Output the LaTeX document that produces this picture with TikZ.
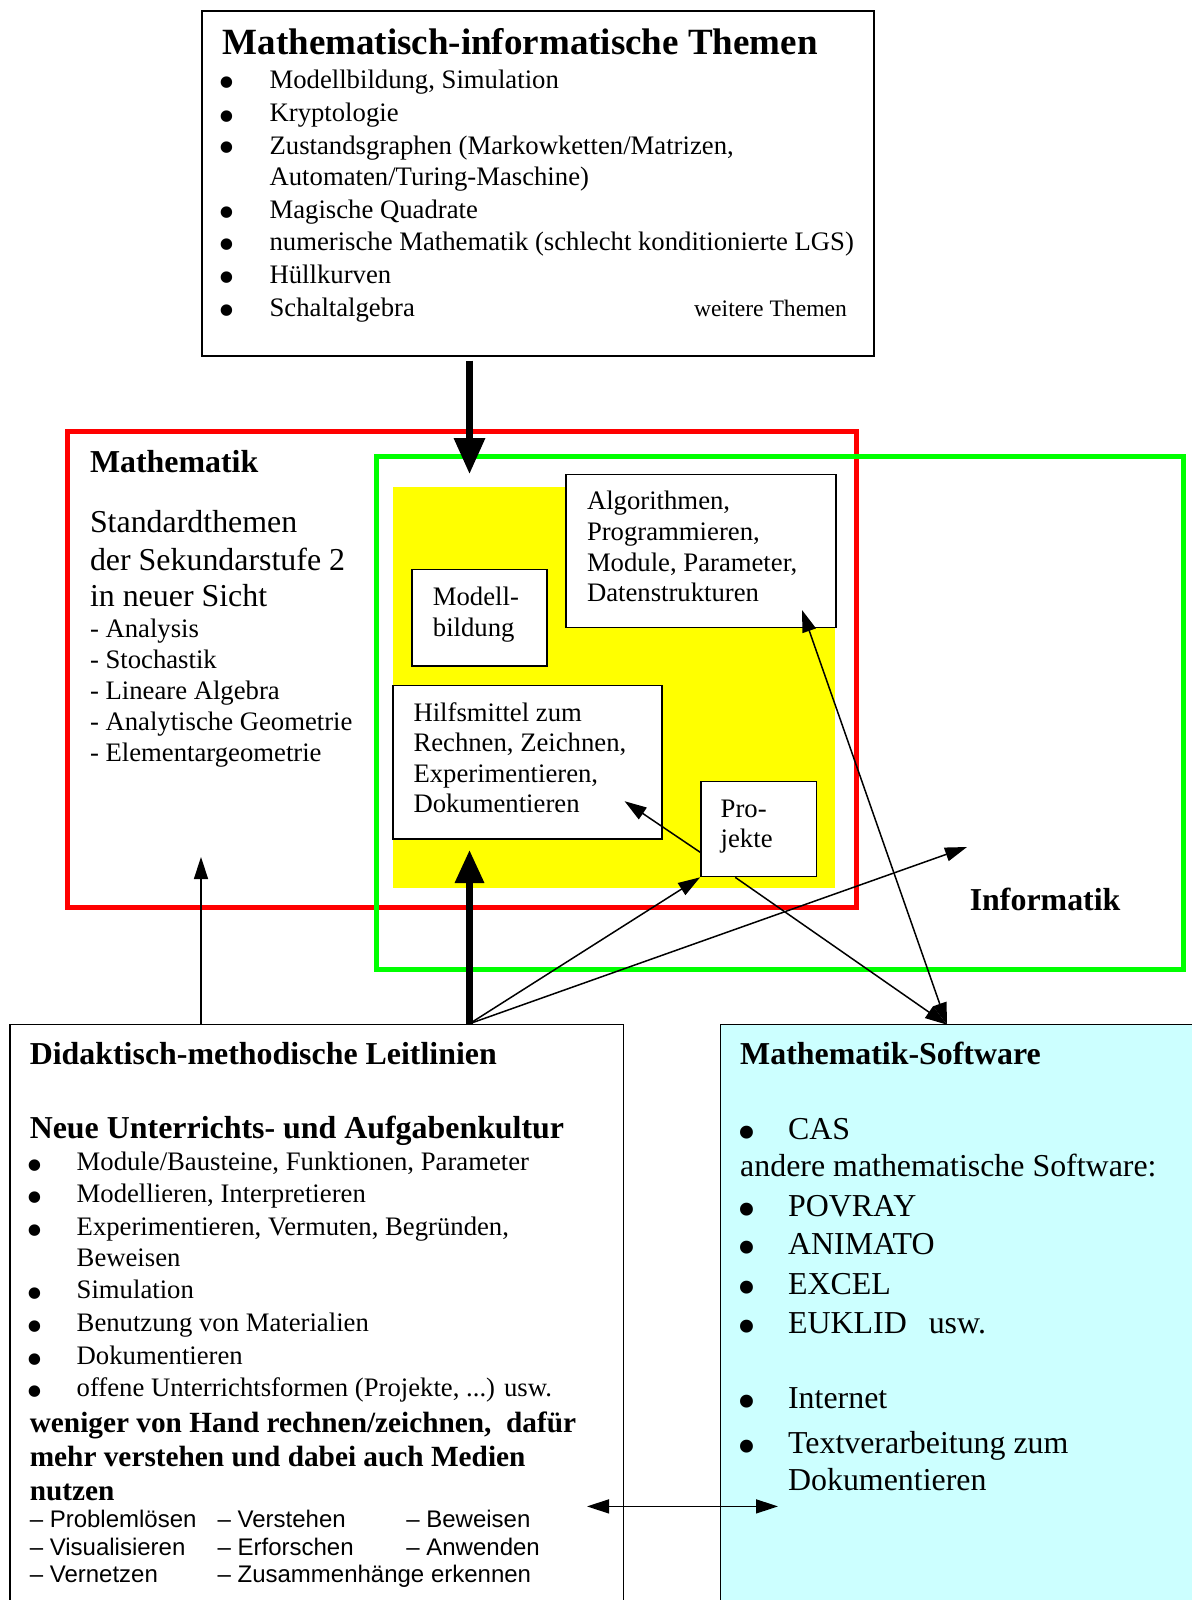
\documentclass[tikz,border=0pt]{standalone}
\usepackage{fontspec}
\setmainfont{Liberation Serif}
\setsansfont{Liberation Sans}
\usetikzlibrary{arrows.meta,calc}
\definecolor{frameRed}{RGB}{255,0,0}
\definecolor{frameGreen}{RGB}{0,255,0}
\definecolor{hiYellow}{RGB}{255,255,0}
\definecolor{softCyan}{RGB}{204,255,255}

\begin{document}
\begin{tikzpicture}[x=1pt,y=-1pt,
  box/.style={draw=black,line width=1.6pt,inner sep=0pt,anchor=north west,fill=white},
  frame/.style={line width=5pt,inner sep=0pt,anchor=north west},
  body/.style={anchor=base west,inner sep=0pt,font=\fontsize{26.7}{32}\selectfont},
  large/.style={anchor=base west,inner sep=0pt,font=\fontsize{31.9}{38}\selectfont},
  head/.style={anchor=base west,inner sep=0pt,font=\fontsize{31.9}{38}\selectfont\bfseries},
  slogan/.style={anchor=base west,inner sep=0pt,font=\fontsize{29.3}{34}\selectfont\bfseries},
  skill/.style={anchor=base west,inner sep=0pt,font=\sffamily\fontsize{24}{28}\selectfont},
  dot/.style={anchor=base,inner sep=0pt,font=\fontsize{48}{50}\selectfont},
  bigdot/.style={anchor=base,inner sep=0pt,font=\fontsize{54}{56}\selectfont},
  thin/.style={line width=1.5pt,-{Triangle[length=22pt,width=14pt]}},
  thinboth/.style={line width=1.5pt,{Triangle[length=22pt,width=14pt]}-{Triangle[length=22pt,width=14pt]}},
  heavy/.style={line width=6.5pt,-{Triangle[length=36pt,width=30pt]}}
]
\useasboundingbox (0,0) rectangle (1191,1600);
\fill[white] (0,0) rectangle (1191,1600);

% ---------- topic box at the top ----------
\node[box,minimum width=672pt,minimum height=345pt] (themen) at (201,10) {};
\node[anchor=base west,inner sep=0pt,font=\fontsize{37}{44}\selectfont\bfseries] (themenT) at (222.5,55) {Mathematisch-informatische Themen};
\foreach \yy/\tt [count=\i] in {89/{Modellbildung, Simulation},122/Kryptologie,154/{Zustandsgraphen (Markowketten/Matrizen,},218/Magische Quadrate,250/numerische Mathematik (schlecht konditionierte LGS),283/Hüllkurven,316/Schaltalgebra}{
  \node[dot] (tb\i) at (226.7,\yy+10) {\smash{\textbullet}};
  \node[body] (tt\i) at (269.4,\yy) {\tt};
}
\node[body] (ttcont) at (269.4,185) {Automaten/Turing-Maschine)};
\node[anchor=base west,inner sep=0pt,font=\fontsize{23.6}{28}\selectfont] (weitere) at (694,316) {weitere Themen};

% ---------- mathematics / informatics frames ----------
\node[frame,draw=frameRed,minimum width=788.9pt,minimum height=476.6pt] (mathe) at (65.3,428.7) {};
\node[frame,draw=frameGreen,minimum width=807.3pt,minimum height=512.3pt] (info) at (373.5,454.2) {};
\node[anchor=north west,inner sep=0pt,fill=hiYellow,minimum width=442pt,minimum height=401.1pt] (yel) at (392.9,486.8) {};

\node[head] (matheT) at (89.8,472) {Mathematik};
\node[large] (std1) at (89.8,532) {Standardthemen};
\node[large] (std2) at (89.8,570) {der Sekundarstufe 2};
\node[large] (std3) at (89.8,606.5) {in neuer Sicht};
\foreach \yy/\tt [count=\i] in {637/- Analysis,668/- Stochastik,699.5/- Lineare Algebra,730/- Analytische Geometrie,761/- Elementargeometrie}{
  \node[body] (sg\i) at (89.8,\yy) {\tt};
}

% ---------- boxes in the common area ----------
\node[box,minimum width=269.5pt,minimum height=153pt] (alg) at (565.4,473.6) {};
\foreach \yy/\tt [count=\i] in {509.6/{Algorithmen,},540/{Programmieren,},571/{Module, Parameter,},601.5/Datenstrukturen}{
  \node[body] (alg\i) at (586.8,\yy) {\tt};
}
\node[box,minimum width=134.7pt,minimum height=96.9pt] (modell) at (411.3,568.5) {};
\node[body] (modell1) at (432.7,605.5) {Modell-};
\node[body] (modell2) at (432.7,636) {bildung};
\node[box,minimum width=269.4pt,minimum height=153.1pt] (hilf) at (391.9,684.8) {};
\foreach \yy/\tt [count=\i] in {721/Hilfsmittel zum,751.5/{Rechnen, Zeichnen,},782/{Experimentieren,},812.7/Dokumentieren}{
  \node[body] (hilf\i) at (413.3,\yy) {\tt};
}
\node[box,minimum width=115.4pt,minimum height=94.9pt] (proj) at (700.1,780.8) {};
\node[body] (proj1) at (720.5,817) {Pro-};
\node[body] (proj2) at (720.5,847.5) {jekte};
\node[head] (infoT) at (969.6,910) {Informatik};

% ---------- didactic guidelines ----------
\node[box,minimum width=613.4pt,minimum height=620pt] (didak) at (9.2,1023.7) {};
\node[head] (didakT) at (29.6,1064) {Didaktisch-methodische Leitlinien};
\node[head] (kultur) at (29.6,1138.5) {Neue Unterrichts- und Aufgabenkultur};
\foreach \yy/\tt [count=\i] in {1170/{Module/Bausteine, Funktionen, Parameter},1202.6/{Modellieren, Interpretieren},1235.3/{Experimentieren, Vermuten, Begründen,},1298.5/Simulation,1331/Benutzung von Materialien,1364/Dokumentieren,1396.5/{offene Unterrichtsformen (Projekte, ...) usw.}}{
  \node[dot] (db\i) at (34.5,\yy+11) {\smash{\textbullet}};
  \node[body] (dt\i) at (76.5,\yy) {\tt};
}
\node[body] (dtcont) at (76.5,1266) {Beweisen};
\node[slogan] (sl1) at (29.6,1432) {weniger von Hand rechnen/zeichnen,\ \ dafür};
\node[slogan] (sl2) at (29.6,1466) {mehr verstehen und dabei auch Medien};
\node[slogan] (sl3) at (29.6,1500) {nutzen};
\node[skill] (sk1) at (29.6,1527) {– Problemlösen};
\node[skill] (sk2) at (217.4,1527) {– Verstehen};
\node[skill] (sk3) at (406.2,1527) {– Beweisen};
\node[skill] (sk4) at (29.6,1555) {– Visualisieren};
\node[skill] (sk5) at (217.4,1555) {– Erforschen};
\node[skill] (sk6) at (406.2,1555) {– Anwenden};
\node[skill] (sk7) at (29.6,1582.5) {– Vernetzen};
\node[skill] (sk8) at (217.4,1582.5) {– Zusammenhänge erkennen};

% ---------- software box ----------
\node[box,fill=softCyan,minimum width=500pt,minimum height=620pt] (soft) at (719.5,1023.7) {};
\node[head] (softT) at (740,1064) {Mathematik-Software};
\node[large] (andere) at (740,1176) {andere mathematische Software:};
\foreach \yy/\tt [count=\i] in {1139.5/CAS,1216/POVRAY,1254.6/ANIMATO,1294.4/EXCEL,1333.2/EUKLID\hspace{22pt}usw.,1408.7/Internet,1453.6/Textverarbeitung zum}{
  \node[bigdot] (sb\i) at (747,\yy+11) {\smash{\textbullet}};
  \node[large] (st\i) at (787.9,\yy) {\tt};
}
\node[large] (stcont) at (787.9,1490.4) {Dokumentieren};

% ---------- connectors ----------
\coordinate (topfoot) at ($(themen.south west)+(268.5,4)$);
\coordinate (toptip) at (topfoot |- 0,474);
\coordinate (hub) at ($(didak.north west)+(460.3,0)$);
\coordinate (hubtip) at (hub |- 0,850);
\coordinate (mfoot) at ($(didak.north west)+(191.8,0)$);
\coordinate (mtip) at (mfoot |- 0,857);
\coordinate (infotip) at (967,847);
\coordinate (projout) at ($(proj.south west)!0.26!(proj.north west)$);
\coordinate (hilftip) at (624.6,801.2);
\coordinate (algtip) at (802,610);
\coordinate (softtip) at ($(soft.north west)+(227.5,1)$);
\coordinate (projfoot) at ($(proj.south west)!0.3!(proj.south east)$);
\coordinate (dleft) at (587,1506.4);
\coordinate (dright) at (778,1506.4);

\draw[heavy] (topfoot) -- (toptip);
\draw[heavy,-{Triangle[length=33pt,width=28pt]}] (hub) -- (hubtip);
\draw[thin] (mfoot) -- (mtip);
\draw[thin] (hub) -- (proj.south west);
\draw[thin] (hub) -- (infotip);
\draw[thin] (projout) -- (hilftip);
\draw[thin] (projfoot) -- (softtip);
\draw[thinboth] (algtip) -- (softtip);
\draw[thinboth] (dleft) -- (dright);
\end{tikzpicture}
\end{document}
